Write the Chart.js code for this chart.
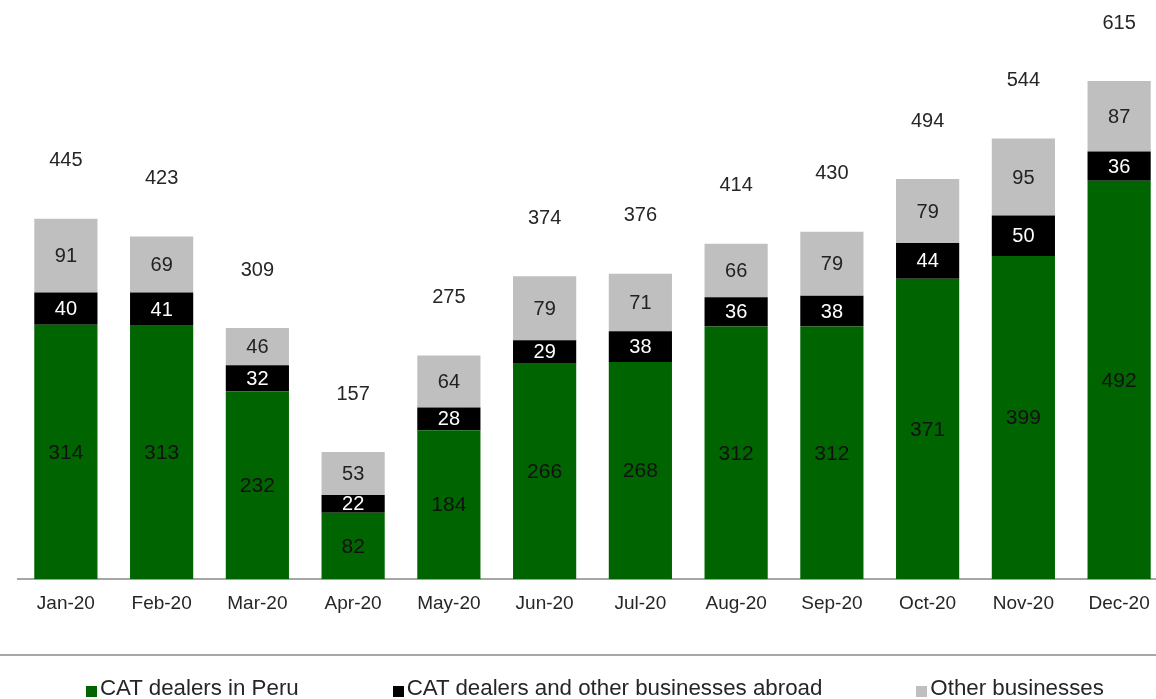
<!DOCTYPE html>
<html>
<head>
<meta charset="utf-8">
<script src="https://cdn.jsdelivr.net/npm/chart.js@4/dist/chart.umd.min.js"></script>
<style>
  body { margin: 0; overflow: hidden; background: #fff; font-family: Arial, "Liberation Sans", sans-serif; }
  #wrap { position: relative; width: 1156px; height: 699px; overflow: hidden; }
  #chart { position: absolute; left: 0; top: 0; }
  #rule { position: absolute; left: 0; top: 654px; width: 1156px; border-top: 2px solid #a6a6a6; }
  #legend { position: absolute; left: 86px; top: 677px; display: flex; gap: 94px; font-size: 22.3px; line-height: 22px; color: #262626; white-space: nowrap; }
  .item { display: flex; align-items: flex-start; }
  .box { width: 11px; height: 11px; margin-top: 9px; margin-right: 3px; }
</style>
</head>
<body>
<div id="wrap">
  <canvas id="chart" width="1170" height="699"></canvas>
  <div id="rule"></div>
  <div id="legend"></div>
</div>
<script>
const months = ['Jan-20', 'Feb-20', 'Mar-20', 'Apr-20', 'May-20', 'Jun-20', 'Jul-20', 'Aug-20', 'Sep-20', 'Oct-20', 'Nov-20', 'Dec-20'];
const catPeru = [314, 313, 232, 82, 184, 266, 268, 312, 312, 371, 399, 492];
const catAbroad = [40, 41, 32, 22, 28, 29, 38, 36, 38, 44, 50, 36];
const otherBiz = [91, 69, 46, 53, 64, 79, 71, 66, 79, 79, 95, 87];
const totals = [445, 423, 309, 157, 275, 374, 376, 414, 430, 494, 544, 615];

const FONT = 'Arial, "Liberation Sans", sans-serif';

// numbers inside each segment, plus the total above each column
const barLabels = {
  id: 'barLabels',
  afterDatasetsDraw(chart) {
    const ctx = chart.ctx;
    ctx.save();
    ctx.textAlign = 'center';
    ctx.textBaseline = 'middle';
    chart.data.datasets.forEach((ds, i) => {
      const meta = chart.getDatasetMeta(i);
      ctx.font = ds.labelSize + 'px ' + FONT;
      ctx.fillStyle = ds.labelColor;
      meta.data.forEach((bar, j) => {
        const p = bar.getProps(['x', 'y', 'base'], true);
        ctx.fillText(ds.data[j], p.x, (p.y + p.base) / 2 + 1);
      });
    });
    const top = chart.getDatasetMeta(chart.data.datasets.length - 1);
    ctx.font = '20px ' + FONT;
    ctx.fillStyle = '#262626';
    top.data.forEach((bar, j) => {
      const p = bar.getProps(['x', 'y'], true);
      ctx.fillText(totals[j], p.x, p.y - 58);
    });
    ctx.restore();
  }
};

const chart = new Chart(document.getElementById('chart'), {
  type: 'bar',
  data: {
    labels: months,
    datasets: [
      { label: 'CAT dealers in Peru', data: catPeru, backgroundColor: '#006400', labelColor: '#111', labelSize: 21 },
      { label: 'CAT dealers and other businesses abroad', data: catAbroad, backgroundColor: '#000000', labelColor: '#fff', labelSize: 20 },
      { label: 'Other businesses', data: otherBiz, backgroundColor: '#bfbfbf', labelColor: '#222', labelSize: 20 }
    ]
  },
  options: {
    responsive: false,
    animation: false,
    layout: { padding: { left: 18, right: 3, top: 0, bottom: 71 } },
    datasets: { bar: { categoryPercentage: 1, barPercentage: 0.66 } },
    plugins: { legend: { display: false }, tooltip: { enabled: false } },
    scales: {
      x: {
        stacked: true,
        grid: { display: false, drawTicks: false },
        border: { display: true, color: '#a6a6a6', width: 2 },
        ticks: { color: '#262626', padding: 13, font: { family: FONT, size: 19 } }
      },
      y: { stacked: true, display: false, min: 0, max: 715 }
    }
  },
  plugins: [barLabels]
});

// legend under the rule line
const legend = document.getElementById('legend');
chart.data.datasets.forEach(ds => {
  const item = document.createElement('div');
  item.className = 'item';
  const box = document.createElement('span');
  box.className = 'box';
  box.style.background = ds.backgroundColor;
  const text = document.createElement('span');
  text.textContent = ds.label;
  item.appendChild(box);
  item.appendChild(text);
  legend.appendChild(item);
});
</script>
</body>
</html>
